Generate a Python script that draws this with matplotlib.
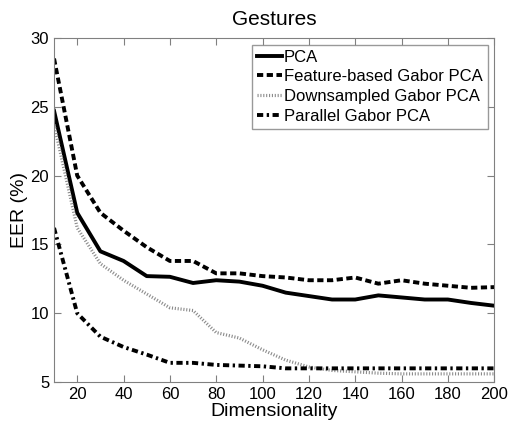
import matplotlib
matplotlib.use("Agg")
import matplotlib.pyplot as plt

plt.rcParams['font.family'] = ['Liberation Sans', 'DejaVu Sans']

dims = [10, 20, 30, 40, 50, 60, 70, 80, 90, 100,
        110, 120, 130, 140, 150, 160, 170, 180, 190, 200]

pca = [24.7, 17.3, 14.5, 13.8, 12.7, 12.65, 12.2, 12.4, 12.3, 12.0,
       11.5, 11.25, 11.0, 11.0, 11.3, 11.15, 11.0, 11.0, 10.75, 10.55]
feature_gabor = [28.5, 20.0, 17.3, 16.0, 14.8, 13.8, 13.8, 12.9, 12.9, 12.7,
                 12.6, 12.4, 12.4, 12.6, 12.15, 12.4, 12.15, 12.0, 11.85, 11.9]
downsampled_gabor = [23.7, 16.2, 13.6, 12.4, 11.4, 10.4, 10.2, 8.6, 8.2, 7.35,
                     6.6, 6.1, 5.85, 5.75, 5.65, 5.6, 5.6, 5.6, 5.6, 5.6]
parallel_gabor = [16.2, 10.0, 8.3, 7.55, 7.0, 6.4, 6.4, 6.25, 6.2, 6.15,
                  6.0, 6.0, 6.0, 6.0, 6.0, 6.0, 6.0, 6.0, 6.0, 6.0]

fig = plt.figure(figsize=(5.1, 4.26), dpi=100)
ax = fig.add_axes([0.106, 0.103, 0.863, 0.808])

ax.plot(dims, pca, color='black', lw=2.8, ls='-', label='PCA')
ax.plot(dims, feature_gabor, color='black', lw=2.8, ls=(0, (1.6, 0.9)),
        label='Feature-based Gabor PCA')
ax.plot(dims, downsampled_gabor, color='#8c8c8c', lw=2.3, ls=(0, (0.35, 0.55)),
        label='Downsampled Gabor PCA')
ax.plot(dims, parallel_gabor, color='black', lw=2.8, ls=(0, (1.6, 0.9, 0.6, 0.9)),
        label='Parallel Gabor PCA')

ax.set_xlim(10, 200)
ax.set_ylim(5, 30)
ax.set_xticks(range(20, 201, 20))
ax.set_yticks(range(5, 31, 5))
ax.tick_params(direction='in', top=True, right=True, labelsize=12,
               color='#808080', length=5)
for s in ax.spines.values():
    s.set_color('#808080')

ax.set_title('Gestures', fontsize=15, pad=9)
ax.set_xlabel('Dimensionality', fontsize=14, labelpad=1)
ax.set_ylabel('EER (%)', fontsize=14, labelpad=2)

leg = ax.legend(loc='upper right', fontsize=12, handlelength=1.5,
                handletextpad=0.1, borderpad=0.3, labelspacing=0.28,
                fancybox=False, borderaxespad=0.4)
leg.get_frame().set_edgecolor('#808080')
leg.get_frame().set_linewidth(1)

fig.savefig('out.png', dpi=100)
